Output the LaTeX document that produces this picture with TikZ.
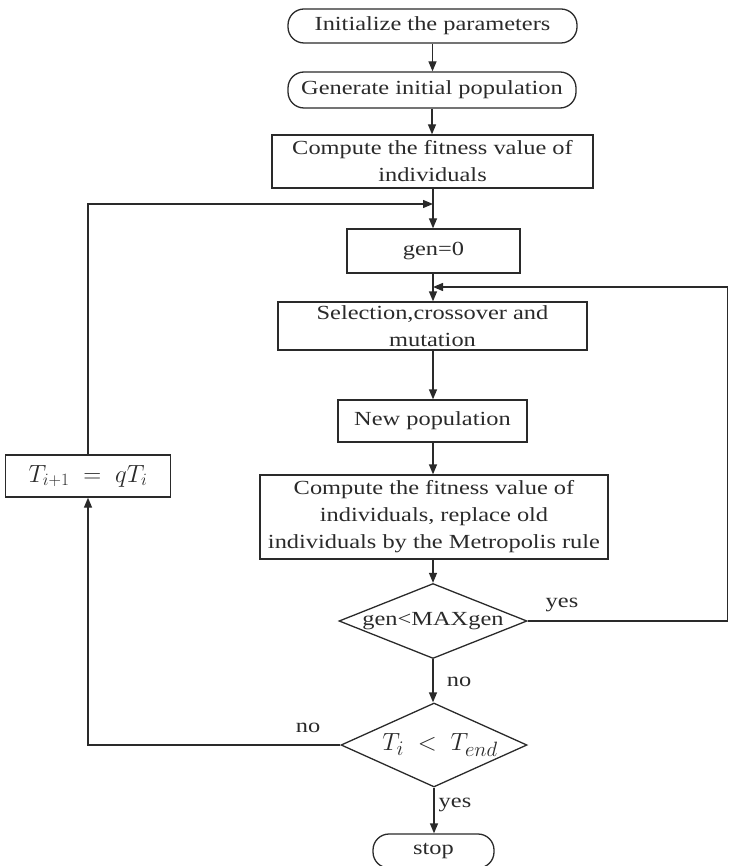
\documentclass[tikz,border=0pt]{standalone}
\usepackage{fontspec}
\setmainfont[FakeStretch=1.22]{Liberation Serif}
\usetikzlibrary{arrows.meta,shapes.geometric}
\definecolor{ink}{HTML}{2A2A2A}
\begin{document}
\begin{tikzpicture}[x=1pt,y=-1pt,
  every node/.style={text=ink, font=\fontsize{20}{27}\selectfont},
  term/.style={draw=ink, line width=1.3pt, rectangle, rounded corners=16pt, inner sep=0pt, align=center},
  box/.style={draw=ink, line width=1.3pt, rectangle, inner sep=0pt, align=center},
  dia/.style={draw=ink, line width=1.3pt, diamond, inner sep=0pt},
  lbl/.style={inner sep=0pt},
  arr/.style={draw=ink, line width=1.3pt, -{Triangle[length=10pt,width=8pt]}},
  ln/.style={draw=ink, line width=1.3pt}]
\useasboundingbox (0,0) rectangle (729,866);

\node[term, minimum width=289pt, minimum height=34pt] (init) at (432.5,26) {Initialize the parameters};
\node[term, minimum width=288pt, minimum height=36pt] (gen) at (432,90) {Generate initial population};
\node[box, minimum width=321pt, minimum height=53pt] (fit) at (432.5,161.5) {Compute the fitness value of\\individuals};
\node[box, minimum width=173pt, minimum height=44pt] (g0) at (433.5,251) {gen=0};
\node[box, minimum width=309pt, minimum height=48pt] (sel) at (432.5,326) {Selection,crossover and\\mutation};
\node[box, minimum width=189pt, minimum height=42pt] (np) at (432.5,421) {New population};
\node[box, minimum width=348pt, minimum height=84pt] (cmp) at (434,517) {Compute the fitness value of\\individuals, replace old\\individuals by the Metropolis rule};
\node[dia, minimum width=188pt, minimum height=75pt] (d1) at (433,621) {};
\node[lbl] (d1t) at (433,621) {gen<MAXgen};
\node[dia, minimum width=186pt, minimum height=84pt] (d2) at (434,745) {};
\node[lbl, font=\fontsize{28}{32}\selectfont] (d2t) at (440,745) {$T_{i}\;<\;T_{end}$};
\node[term, minimum width=121pt, minimum height=34pt] (stop) at (433.5,851) {stop};
\node[box, minimum width=165pt, minimum height=42pt, font=\fontsize{26}{30}\selectfont] (T) at (88,476) {$T_{i+1}\;=\;qT_{i}$};

\coordinate (lj) at (433,204);
\coordinate (rj) at (433,287);
\coordinate (rc) at (727.5,621);

\draw[arr] (init.south) -- (init.south |- gen.north);
\draw[arr] (gen.south) -- (gen.south |- fit.north);
\draw[arr] (fit.south -| lj) -- (g0.north -| lj);
\draw[arr] (T.north) |- (lj);
\draw[arr] (g0.south -| lj) -- (sel.north -| lj);
\draw[arr] (d1.east) -- (rc) |- (rj);
\draw[arr] (sel.south -| lj) -- (np.north -| lj);
\draw[arr] (np.south -| lj) -- (cmp.north -| lj);
\draw[arr] (cmp.south -| lj) -- (d1.north);
\draw[arr] (d1.south) -- (d2.north -| d1.south);
\draw[arr] (d2.west) -| (T.south);
\draw[arr] (d2.south) -- (stop.north -| d2.south);

\node[lbl] (y1) at (562,605) {yes};
\node[lbl] (n1) at (459,682) {no};
\node[lbl] (n2) at (308,728) {no};
\node[lbl] (y2) at (455,805) {yes};
\end{tikzpicture}
\end{document}
